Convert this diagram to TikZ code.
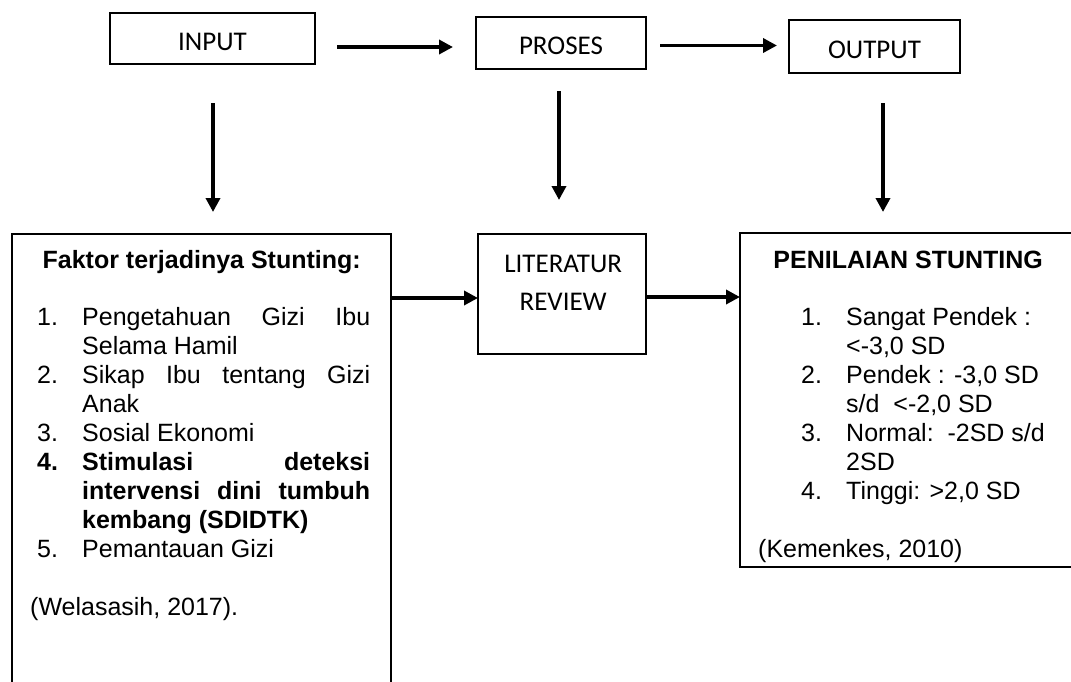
\documentclass[tikz,border=0pt]{standalone}
\usepackage{fontspec}
\setmainfont{Liberation Sans}
\newfontfamily\calfont{Carlito}
\usetikzlibrary{arrows.meta}
\newcommand{\Litem}[2]{\hspace*{25pt}\makebox[45pt][l]{#1}#2\par}
\newcommand{\Lcont}[1]{\hspace*{70pt}#1\par}
\newcommand{\Ritem}[2]{\hspace*{61pt}\makebox[45pt][l]{#1}#2\par}
\newcommand{\Rcont}[1]{\hspace*{106pt}#1\par}
\newcommand{\J}[1]{\hbox to 288pt{#1}}
\tikzset{
  topbox/.style={draw, line width=1.6pt, outer sep=0pt, inner sep=0pt,
    font=\calfont\fontsize{27}{32}\selectfont, text height=23pt, text depth=0pt},
  bigbox/.style={draw, line width=1.6pt, outer sep=0pt, inner sep=0pt, anchor=north west},
  txt/.style={inner sep=0pt, anchor=base west},
  arr/.style={line width=3.8pt, -{Triangle[length=14pt,width=14pt]}}
}
\begin{document}
\begin{tikzpicture}[x=1pt,y=-1pt]
\useasboundingbox (0,0) rectangle (1071,681);
\fill[white] (0,0) rectangle (1071,681);
% top boxes
\node[topbox, minimum width=205pt, minimum height=51pt] (input) at (212.5,38.5) {INPUT};
\node[topbox, minimum width=170pt, minimum height=52pt] (proses) at (561,43) {PROSES};
\node[topbox, minimum width=171pt, minimum height=53pt] (output) at (874.5,46.5) {OUTPUT};
% lower boxes
\node[bigbox, minimum width=379pt, minimum height=480pt] (fbox) at (12,234) {};
\node[bigbox, minimum width=168pt, minimum height=120pt] (lit) at (478,234) {};
\node[bigbox, minimum width=336pt, minimum height=334pt] (pbox) at (740,233) {};
% texts
\node[txt] (littext) at (478,272) {\begin{minipage}[t]{170pt}\calfont\fontsize{27}{38}\selectfont\centering LITERATUR\\REVIEW\end{minipage}};
\node[txt] (ftext) at (12,268) {\begin{minipage}[t]{379pt}\fontsize{25}{29}\selectfont
{\centering\textbf{Faktor terjadinya Stunting:}\par}
\vskip 28pt
\raggedright
\Litem{1.}{\J{Pengetahuan\hfill Gizi\hfill Ibu}}
\Lcont{Selama Hamil}
\Litem{2.}{\J{Sikap\hfill Ibu\hfill tentang\hfill Gizi}}
\Lcont{Anak}
\Litem{3.}{Sosial Ekonomi}
\Litem{\textbf{4.}}{\J{\textbf{Stimulasi}\hfill\textbf{deteksi}}}
\Lcont{\J{\textbf{intervensi}\hfill\textbf{dini}\hfill\textbf{tumbuh}}}
\Lcont{\textbf{kembang (SDIDTK)}}
\Litem{5.}{Pemantauan Gizi}
\vskip 29pt
\hspace*{18pt}(Welasasih, 2017).\par
\end{minipage}};
\node[txt] (ptext) at (740,268) {\begin{minipage}[t]{336pt}\fontsize{25}{29}\selectfont
{\centering\textbf{PENILAIAN STUNTING}\par}
\vskip 28pt
\raggedright
\Ritem{1.}{Sangat Pendek :}
\Rcont{<-3,0 SD}
\Ritem{2.}{Pendek : -3,0 SD}
\Rcont{s/d\ \ <-2,0 SD}
\Ritem{3.}{Normal:\ \ -2SD s/d}
\Rcont{2SD}
\Ritem{4.}{Tinggi: >2,0 SD}
\vskip 29pt
\hspace*{18pt}(Kemenkes, 2010)\par
\end{minipage}};
% top horizontal arrows
\draw[arr] ([shift={(22,8.5)}]input.east) -- ([shift={(-23,4)}]proses.west);
\draw[arr] ([shift={(14,2.5)}]proses.east) -- ([shift={(-12,-1)}]output.west);
% vertical arrows
\draw[arr] ([shift={(0.5,39)}]input.south) -- ++(0,109);
\draw[arr] ([shift={(-2,22)}]proses.south) -- ++(0,109);
\draw[arr] ([shift={(8.5,30)}]output.south) -- ++(0,109);
% middle arrows
\coordinate (a1) at ([shift={(0,4)}]lit.west);
\coordinate (a2) at ([shift={(0,3)}]lit.east);
\draw[arr] (a1 -| fbox.east) -- (a1);
\draw[arr] (a2) -- (a2 -| pbox.west);
\end{tikzpicture}
\end{document}
